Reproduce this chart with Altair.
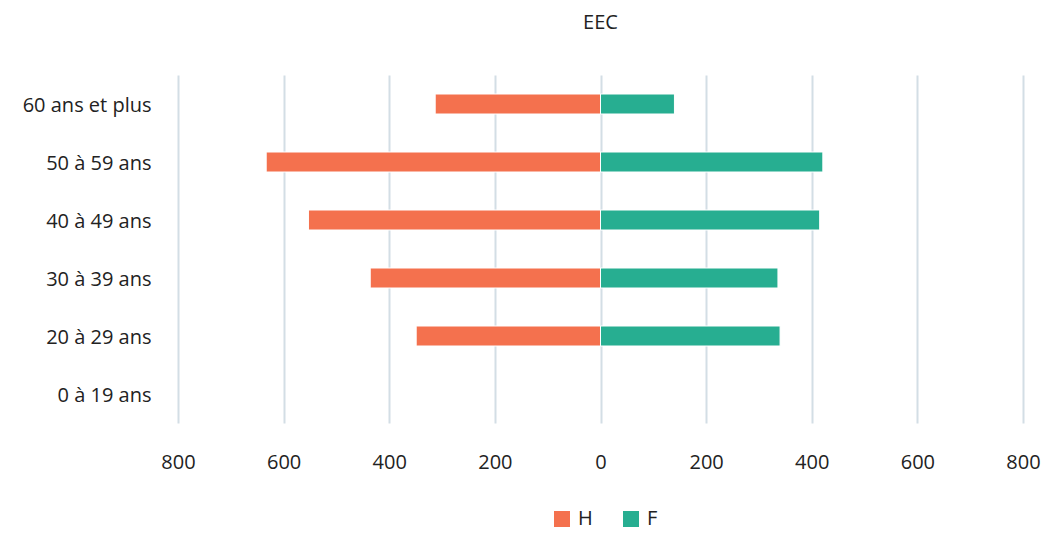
import altair as alt
import pandas as pd

ages = ["60 ans et plus", "50 à 59 ans", "40 à 49 ans", "30 à 39 ans", "20 à 29 ans", "0 à 19 ans"]
hommes = [313, 633, 553, 436, 349, 0]
femmes = [140, 421, 415, 336, 340, 0]
sexes = ["H", "F"]
colors = ["#F4714E", "#27AE91"]

rows = []
for a, h, f in zip(ages, hommes, femmes):
    rows.append({"age": a, "sexe": "H", "valeur": -h})
    rows.append({"age": a, "sexe": "F", "valeur": f})
df = pd.DataFrame(rows)

FONT = "Open Sans"

chart = alt.Chart(df).mark_bar(size=20, stroke="white", strokeWidth=1).encode(
    x=alt.X("valeur:Q",
            scale=alt.Scale(domain=[-800, 800], nice=False),
            axis=alt.Axis(values=[-800, -600, -400, -200, 0, 200, 400, 600, 800],
                          labelExpr="abs(datum.value)", title=None,
                          domain=False, ticks=False, grid=True,
                          gridColor="#D3DEE5", gridWidth=2, labelFlush=False,
                          labelPadding=29, labelFontSize=20, labelColor="#222222",
                          labelFont=FONT)),
    y=alt.Y("age:N", sort=ages, scale=alt.Scale(domain=ages),
            axis=alt.Axis(title=None, domain=False, ticks=False, grid=False,
                          labelPadding=27, labelFontSize=20, labelColor="#222222",
                          labelFont=FONT, labelBaseline="middle", labelOffset=2)),
    color=alt.Color("sexe:N",
                    scale=alt.Scale(domain=sexes, range=colors),
                    legend=alt.Legend(title=None, orient="none", direction="horizontal",
                                      legendX=374, legendY=434,
                                      symbolType="square", symbolSize=256,
                                      symbolStrokeWidth=0, labelFontSize=20,
                                      labelColor="#222222", labelFont=FONT,
                                      columnPadding=28, labelOffset=6)),
).transform_filter(
    "datum.valeur != 0"
).properties(
    width=845, height=348,
    title=alt.Title("EEC", fontSize=20, fontWeight="normal", color="#222222",
                    font=FONT, anchor="middle", offset=42),
    autosize=alt.AutoSizeParams(type="none"),
    padding={"left": 170, "top": 67, "right": 18, "bottom": 110},
).configure_view(stroke=None)

chart.save("out.html", embed_options={"renderer": "svg", "actions": False})
